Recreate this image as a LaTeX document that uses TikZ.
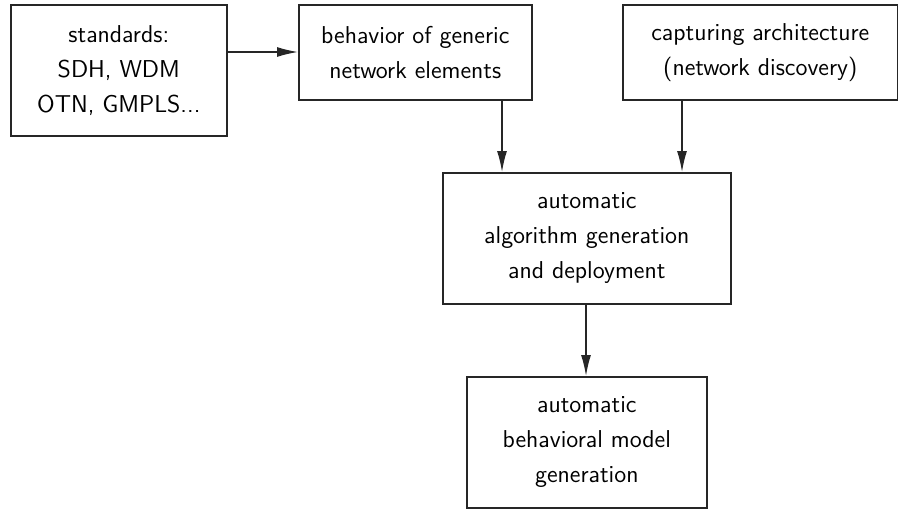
\documentclass[tikz,border=0pt]{standalone}
\usepackage{fontspec}
\usetikzlibrary{arrows.meta,calc}
\begin{document}
\begin{tikzpicture}[x=0.5pt,y=-0.5pt,
  box/.style={draw=black!85,line width=0.8pt,align=center,inner sep=0pt,
    font=\sffamily\fontsize{12.2}{17.6}\selectfont},
  conn/.style={draw=black!85,line width=0.7pt,-{Latex[length=10.5pt,width=5pt]}}]
\useasboundingbox (0,0) rectangle (898,508);
\node[box,minimum width=108pt,minimum height=65.5pt,anchor=north west] (std) at (10,4)
  {standards:\\SDH, WDM\\OTN, GMPLS...};
\node[box,minimum width=116.5pt,minimum height=47.5pt,anchor=north west] (beh) at (298,4)
  {behavior of generic\\network elements};
\node[box,minimum width=137.5pt,minimum height=47.5pt,anchor=north west] (cap) at (622,4)
  {capturing architecture\\(network discovery)};
\node[box,minimum width=144pt,minimum height=65.5pt,anchor=north west] (alg) at (442,172)
  {automatic\\algorithm generation\\and deployment};
\node[box,minimum width=120pt,minimum height=65.5pt,anchor=north west] (mod) at (466,376)
  {automatic\\behavioral model\\generation};
\coordinate (p1) at (502,172);
\coordinate (p2) at (682,172);
\draw[conn] (std.east |- 0,52) -- (beh.west |- 0,52);
\draw[conn] (beh.south -| p1) -- (p1);
\draw[conn] (cap.south -| p2) -- (p2);
\draw[conn] (alg.south -| 586,0) -- (mod.north -| 586,0);
\end{tikzpicture}
\end{document}
